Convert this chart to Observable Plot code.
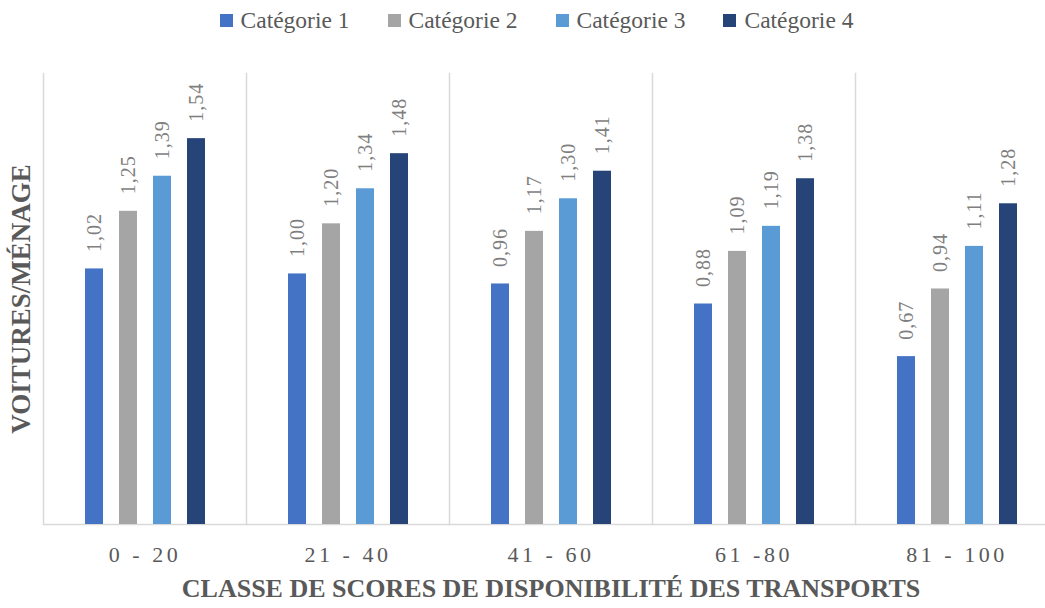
<!DOCTYPE html>
<html>
<head>
<meta charset="utf-8">
<script src="https://cdn.jsdelivr.net/npm/d3@7"></script>
<script src="https://cdn.jsdelivr.net/npm/@observablehq/plot@0.6"></script>
<style>
  html, body { margin: 0; padding: 0; background: #fff; overflow: hidden; width: 1045px; height: 608px; }
  #legend { height: 40px; display: flex; justify-content: center; align-items: center; font-family: "Liberation Serif", serif; font-size: 23.5px; color: #595959; padding-left: 28px; box-sizing: border-box; width: 1045px; }
  #legend .item { display: flex; align-items: center; margin: 0 19px; white-space: nowrap; }
  #legend .sw { width: 13px; height: 13px; margin-right: 8px; }
  #chart svg { max-width: none !important; display: block; }
  svg text { font-family: "Liberation Serif", serif; }
  [aria-label="y-axis label"] text { font-weight: bold; font-size: 27px; fill: #595959; }
  [aria-label="fx-axis label"] text { font-weight: bold; font-size: 26px; fill: #595959; }
  [aria-label="fx-axis tick label"] text { font-size: 22px; fill: #595959; letter-spacing: 3.5px; }
  [aria-label="text"] text { letter-spacing: 1px; }
</style>
</head>
<body>
<div id="legend"></div>
<div id="chart"></div>
<script>
const groups = ["0 - 20", "21 - 40", "41 - 60", "61 -80", "81 - 100"];
const categories = ["Catégorie 1", "Catégorie 2", "Catégorie 3", "Catégorie 4"];
const colors = ["#4472C4", "#A5A5A5", "#5B9BD5", "#264478"];
const cat1 = [1.02, 1.00, 0.96, 0.88, 0.67];
const cat2 = [1.25, 1.20, 1.17, 1.09, 0.94];
const cat3 = [1.39, 1.34, 1.30, 1.19, 1.11];
const cat4 = [1.54, 1.48, 1.41, 1.38, 1.28];

const series = [cat1, cat2, cat3, cat4];
const data = [];
groups.forEach((g, gi) => {
  categories.forEach((c, ci) => {
    data.push({group: g, category: c, value: series[ci][gi]});
  });
});
const fmt = v => d3.format(".2f")(v).replace(".", ",");

// legend
const legend = document.getElementById("legend");
categories.forEach((c, i) => {
  const it = document.createElement("div");
  it.className = "item";
  const sw = document.createElement("div");
  sw.className = "sw";
  sw.style.background = colors[i];
  const tx = document.createElement("span");
  tx.textContent = c;
  it.appendChild(sw); it.appendChild(tx);
  legend.appendChild(it);
});

const chart = Plot.plot({
  width: 1058,
  height: 568,
  marginTop: 33,
  marginBottom: 84,
  marginLeft: 43,
  marginRight: 0,
  fx: {domain: groups, padding: 0, axis: "bottom", tickSize: 0, tickPadding: 22, label: "CLASSE DE SCORES DE DISPONIBILITÉ DES TRANSPORTS", labelAnchor: "center", labelOffset: 72},
  x: {domain: categories, paddingInner: 0.48, paddingOuter: 1.165, axis: null},
  y: {domain: [0, 1.8], axis: "left", ticks: [], tickSize: 0, label: "VOITURES/MÉNAGE", labelAnchor: "center", labelOffset: 33, labelArrow: "none"},
  color: {domain: categories, range: colors},
  marks: [
    Plot.frame({anchor: "left", stroke: "#d9d9d9", strokeWidth: 1.5}),
    Plot.ruleY([0], {stroke: "#d9d9d9", strokeWidth: 1.5}),
    Plot.barY(data, {fx: "group", x: "category", y: "value", fill: "category"}),
    Plot.text(data, {fx: "group", x: "category", y: "value", text: d => fmt(d.value), rotate: -90, textAnchor: "start", lineAnchor: "middle", dy: -17, fill: "#7f7f7f", fontSize: 20})
  ]
});
document.getElementById("chart").appendChild(chart);
</script>
</body>
</html>
